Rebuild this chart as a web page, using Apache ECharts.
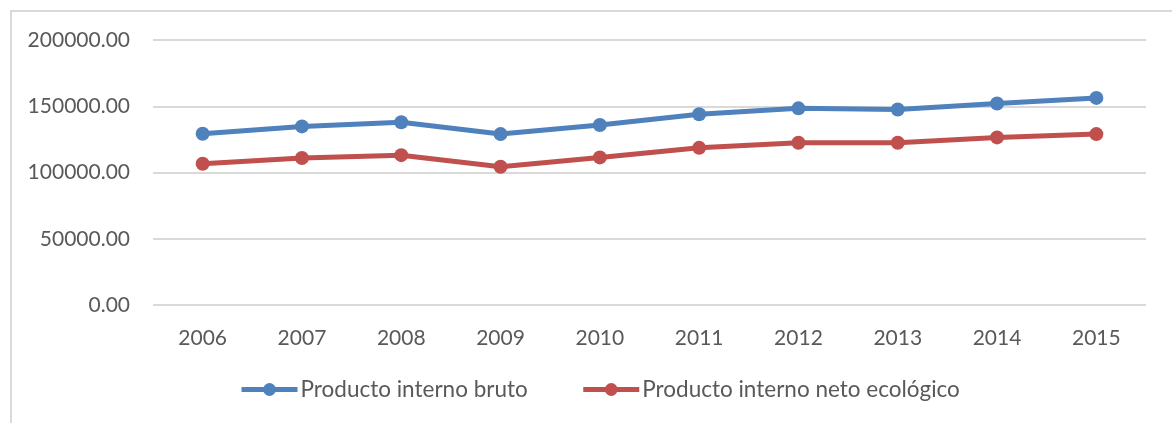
<!DOCTYPE html>
<html>
<head>
<meta charset="utf-8">
<script src="https://cdn.jsdelivr.net/npm/echarts@6/dist/echarts.min.js"></script>
<style>
  html, body { margin: 0; padding: 0; background: #fff; }
  #frame {
    position: absolute; left: 10px; top: 10px; right: -10px; bottom: -10px;
    border-top: 2px solid #d9d9d9; border-left: 2px solid #d9d9d9;
  }
  #main { width: 1172px; height: 423px; position: absolute; left: 0; top: 0; }
</style>
</head>
<body>
<div id="frame"></div>
<div id="main"></div>
<script>
const years = ["2006", "2007", "2008", "2009", "2010", "2011", "2012", "2013", "2014", "2015"];
const pib = [129200, 134800, 137900, 129000, 135800, 144000, 148400, 147600, 152100, 156300];
const pine = [106600, 110900, 113100, 104300, 111400, 118600, 122400, 122400, 126500, 129000];

const txt = "#595959";
const font = "Lato";

let myChart = echarts.init(document.getElementById("main"));
var option = {
  animation: false,
  grid: {
    left: 153,
    right: 26,
    top: 40,
    bottom: 118,
  },
  legend: {
    bottom: 22,
    left: 239,
    padding: 0,
    itemWidth: 56,
    itemHeight: 16,
    itemGap: 53,
    lineStyle: { width: 5 },
    textStyle: { color: txt, fontFamily: font, fontSize: 22.5, padding: [0, 0, 0, -2] },
    data: ["Producto interno bruto", "Producto interno neto ecológico"],
  },
  xAxis: {
    type: "category",
    data: years,
    axisLine: { show: false },
    axisTick: { show: false },
    axisLabel: { color: txt, fontFamily: font, fontSize: 21, margin: 23 },
  },
  yAxis: {
    type: "value",
    min: 0,
    max: 200000,
    interval: 50000,
    axisLabel: {
      color: txt,
      fontFamily: font,
      fontSize: 21,
      margin: 23,
      formatter: (v) => v.toFixed(2),
    },
    splitLine: { lineStyle: { color: "#d9d9d9", width: 2 } },
  },
  series: [
    {
      name: "Producto interno bruto",
      type: "line",
      data: pib,
      symbol: "circle",
      symbolSize: 14,
      lineStyle: { width: 5, color: "#4f81bd" },
      itemStyle: { color: "#4f81bd" },
    },
    {
      name: "Producto interno neto ecológico",
      type: "line",
      data: pine,
      symbol: "circle",
      symbolSize: 14,
      lineStyle: { width: 5, color: "#c0504d" },
      itemStyle: { color: "#c0504d" },
    },
  ],
};
myChart.setOption(option);
</script>
</body>
</html>
